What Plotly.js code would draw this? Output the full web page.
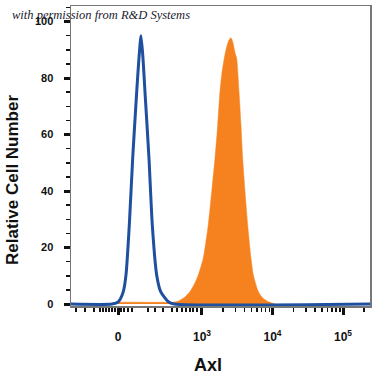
<!DOCTYPE html>
<html>
<head>
<meta charset="utf-8">
<script src="https://cdn.plot.ly/plotly-3.0.1.min.js"></script>
<style>html,body{margin:0;padding:0;background:#fff}#chart{width:375px;height:375px}</style>
</head>
<body>
<div id="chart"></div>
<script>
// Display units: logicle-like scale where 10^3 -> 3, 10^4 -> 4, 10^5 -> 5, 0 -> 1.809
const isotypeX = [1.142, 1.723, 1.813, 1.884, 1.922, 1.969, 2.017, 2.074, 2.106, 2.135, 2.163, 2.191, 2.248, 2.295, 2.357, 2.414, 2.522, 2.603, 5.383];
const isotypeY = [0, 0, 0.8, 4.4, 10.3, 28, 51.6, 75.2, 87, 95, 87, 75.2, 51.6, 28, 10.3, 4.4, 0.8, 0, 0];

const axlX = [1.695, 1.809, 2.262, 2.574, 2.660, 2.759, 2.830, 2.901, 2.948, 3.018, 3.089, 3.138, 3.184, 3.223, 3.255, 3.284, 3.316, 3.350, 3.383, 3.411, 3.440, 3.468, 3.492, 3.525, 3.553, 3.577, 3.610, 3.648, 3.695, 3.728, 3.799, 3.865, 3.940, 4.035];
const axlY = [0, 0.6, 0.6, 0.6, 1.0, 2.5, 4.4, 7.5, 10.3, 16.2, 28, 39.8, 51.6, 63.4, 75.2, 82, 87, 91, 93.5, 94.3, 92.5, 89, 87, 75.2, 63.4, 51.6, 39.8, 28, 16.2, 10.3, 4.4, 2, 0.8, 0];

const xTickVals = [1.809, 3, 4, 5];
const xTickText = ['0', '10<sup>3</sup>', '10<sup>4</sup>', '10<sup>5</sup>'];
const yTickVals = [0, 20, 40, 60, 80, 100];
const xMinorLow = [1.213, 1.340, 1.468, 1.553, 1.596, 1.638, 1.681, 1.723, 1.766, 1.851, 1.894, 1.950, 2.007, 2.234, 2.333, 2.447, 2.574, 2.645, 2.716, 2.773, 2.830, 2.872, 2.929];
const decadeMults = [2, 3, 4, 5, 6, 7, 8, 9];

const xMinor = xMinorLow.slice();
[3, 4].forEach(d => decadeMults.forEach(k => xMinor.push(d + Math.log10(k))));
xMinor.push(5 + Math.log10(2));

const traces = [
  {x: axlX, y: axlY, type: 'scatter', mode: 'lines', fill: 'tozeroy',
   fillcolor: '#f5821f', line: {color: '#f5821f', width: 0.5, shape: 'spline', smoothing: 0.6},
   hoverinfo: 'skip', showlegend: false},
  {x: isotypeX, y: isotypeY, type: 'scatter', mode: 'lines',
   line: {color: '#1f4f9f', width: 3, shape: 'spline', smoothing: 0.6},
   hoverinfo: 'skip', showlegend: false}
];

const boldFont = {family: 'Liberation Sans, Arial, sans-serif', color: '#111', weight: 700};

const layout = {
  width: 375, height: 375,
  margin: {l: 71, r: 5, t: 6, b: 69},
  paper_bgcolor: '#fff', plot_bgcolor: '#fff',
  xaxis: {
    range: [1.142, 5.383], showgrid: false, zeroline: false,
    showline: true, mirror: true, linecolor: '#777', linewidth: 1.5,
    tickmode: 'array', tickvals: xTickVals, ticktext: xTickText,
    ticks: 'outside', ticklen: 7, tickwidth: 3, tickcolor: '#111',
    ticklabelstandoff: 12,
    tickfont: Object.assign({size: 12}, boldFont),
    minor: {tickmode: 'array', tickvals: xMinor, ticks: 'outside', ticklen: 4, tickwidth: 1.5, tickcolor: '#111', showgrid: false}
  },
  yaxis: {
    range: [-0.7, 105.5], showgrid: false, zeroline: false,
    showline: true, mirror: true, linecolor: '#777', linewidth: 1.5,
    tickmode: 'array', tickvals: yTickVals,
    ticks: 'outside', ticklen: 6, tickwidth: 3, tickcolor: '#111',
    ticklabelstandoff: 8,
    tickfont: Object.assign({size: 11}, boldFont),
    minor: {dtick: 5, ticks: 'outside', ticklen: 4, tickwidth: 1.5, tickcolor: '#111', showgrid: false}
  },
  annotations: [
    {text: 'with permission from R&amp;D Systems', xref: 'paper', yref: 'paper',
     x: -0.205, y: 0.97, xanchor: 'left', yanchor: 'middle', showarrow: false,
     font: {family: 'Liberation Serif, serif', size: 12.5, style: 'italic', color: '#1a1a2e'}},
    {text: 'Axl', xref: 'paper', yref: 'paper', x: (208 - 71) / 299, y: -(365 - 306) / 300,
     xanchor: 'center', yanchor: 'middle', showarrow: false,
     font: Object.assign({size: 18}, boldFont)},
    {text: 'Relative Cell Number', xref: 'paper', yref: 'paper', x: (12 - 71) / 299, y: (306 - 180) / 300,
     xanchor: 'center', yanchor: 'middle', showarrow: false, textangle: -90,
     font: Object.assign({size: 17}, boldFont)}
  ]
};

Plotly.newPlot('chart', traces, layout, {displayModeBar: false, staticPlot: true});
</script>
</body>
</html>
